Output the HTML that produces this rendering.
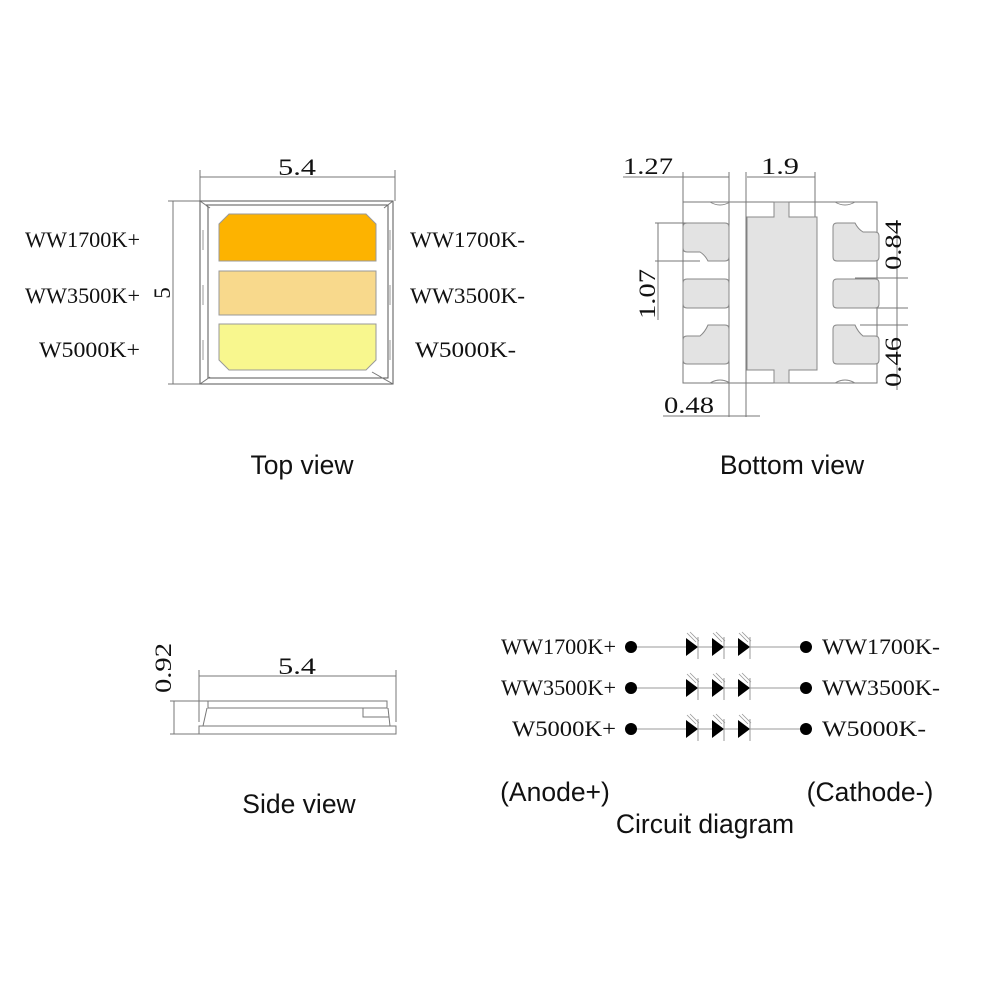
<!DOCTYPE html>
<html><head><meta charset="utf-8"><style>
html,body{margin:0;padding:0;background:#fff;}
svg{display:block;}
.l{font-family:"Liberation Serif",serif;font-size:22px;fill:#111;}
.d{font-family:"Liberation Serif",serif;font-size:23px;fill:#111;}
.s{font-family:"Liberation Sans",sans-serif;font-size:26.5px;fill:#111;}
</style></head><body>
<svg width="1000" height="1000" viewBox="0 0 1000 1000" xmlns="http://www.w3.org/2000/svg">
<g fill="none" stroke="#777" stroke-width="1">
<line x1="200" y1="170" x2="200" y2="201"/><line x1="395" y1="170" x2="395" y2="201"/>
<line x1="200" y1="177" x2="395" y2="177"/>
<line x1="168" y1="201" x2="200" y2="201"/><line x1="168" y1="384" x2="200" y2="384"/>
<line x1="173" y1="201" x2="173" y2="384"/>
<rect x="200" y="201" width="193" height="183" stroke="#555"/>
<path d="M206 205 H388 V378 H208 V207 Z" stroke="#555"/>
<path d="M200 201 L210 208 M393 201 L384 208 M200 384 L210 377 M393 384 L372 372"/>
<path d="M203 230v20M203 285v20M203 340v20M390 230v20M390 285v20M390 340v20" stroke="#999"/>
</g>
<polygon points="229,214 366,214 376,224 376,261 219,261 219,224" fill="#FDB300" stroke="#999"/>
<rect x="219" y="271" width="157" height="44" fill="#F8D98C" stroke="#999"/>
<polygon points="219,324 376,324 376,360 366,370 229,370 219,360" fill="#F8F78E" stroke="#999"/>
<text class="d" x="278" y="175" textLength="38" lengthAdjust="spacingAndGlyphs">5.4</text>
<text class="d" transform="translate(170,293) rotate(-90)" text-anchor="middle">5</text>
<text class="l" x="25" y="247" textLength="115" lengthAdjust="spacingAndGlyphs">WW1700K+</text>
<text class="l" x="25" y="303" textLength="115" lengthAdjust="spacingAndGlyphs">WW3500K+</text>
<text class="l" x="39" y="357" textLength="101" lengthAdjust="spacingAndGlyphs">W5000K+</text>
<text class="l" x="410" y="247" textLength="115" lengthAdjust="spacingAndGlyphs">WW1700K-</text>
<text class="l" x="410" y="303" textLength="115" lengthAdjust="spacingAndGlyphs">WW3500K-</text>
<text class="l" x="415" y="357" textLength="101" lengthAdjust="spacingAndGlyphs">W5000K-</text>
<text class="s" x="302" y="474" text-anchor="middle">Top view</text>

<g stroke="#777" fill="none">
<rect x="683" y="202" width="194" height="181"/>
<line x1="623" y1="177" x2="729" y2="177"/><line x1="747" y1="177" x2="815" y2="177"/>
<line x1="683" y1="172" x2="683" y2="223"/><line x1="729" y1="172" x2="729" y2="417"/>
<line x1="746" y1="172" x2="746" y2="417"/><line x1="815" y1="172" x2="815" y2="217"/>
<line x1="663" y1="416" x2="760" y2="416"/>
<line x1="655" y1="223" x2="700" y2="223"/><line x1="655" y1="261" x2="700" y2="261"/>
<line x1="658" y1="223" x2="658" y2="320"/>
<line x1="897" y1="220" x2="897" y2="390"/>
<line x1="855" y1="278" x2="908" y2="278"/><line x1="855" y1="308" x2="908" y2="308"/>
<line x1="860" y1="325" x2="908" y2="325"/>
<path d="M710 202 q10 6 20 0 M835 202 q10 6 20 0 M710 383 q10 -6 20 0 M835 383 q10 -6 20 0" stroke="#888"/>
</g>
<g fill="#e3e3e3" stroke="#888">
<path d="M747 217 H774 V202 H789 V217 H817 V370 H789 V383 H774 V370 H747 Z"/>
<path d="M687 223 H725 Q729 223 729 227 V257 Q729 261 725 261 H708 Q705 255 700 252 H687 Q683 252 683 248 V227 Q683 223 687 223Z"/>
<path d="M687 279 H725 Q729 279 729 283 V304 Q729 308 725 308 H687 Q683 308 683 304 V283 Q683 279 687 279Z"/>
<path d="M687 336 H700 Q705 332 708 325 H725 Q729 325 729 329 V360 Q729 364 725 364 H687 Q683 364 683 360 V340 Q683 336 687 336Z"/>
<path d="M837 223 H855 Q858 229 863 232 H875 Q879 232 879 236 V257 Q879 261 875 261 H837 Q833 261 833 257 V227 Q833 223 837 223Z"/>
<path d="M837 279 H875 Q879 279 879 283 V304 Q879 308 875 308 H837 Q833 308 833 304 V283 Q833 279 837 279Z"/>
<path d="M837 325 H855 Q858 332 863 336 H875 Q879 336 879 340 V360 Q879 364 875 364 H837 Q833 364 833 360 V329 Q833 325 837 325Z"/>
</g>
<text class="d" x="623" y="174" textLength="50" lengthAdjust="spacingAndGlyphs">1.27</text>
<text class="d" x="761" y="174" textLength="38" lengthAdjust="spacingAndGlyphs">1.9</text>
<text class="d" x="664" y="413" textLength="50" lengthAdjust="spacingAndGlyphs">0.48</text>
<text class="d" transform="translate(655,294) rotate(-90)" text-anchor="middle" textLength="50" lengthAdjust="spacingAndGlyphs">1.07</text>
<text class="d" transform="translate(901,245) rotate(-90)" text-anchor="middle" textLength="50" lengthAdjust="spacingAndGlyphs">0.84</text>
<text class="d" transform="translate(901,362) rotate(-90)" text-anchor="middle" textLength="50" lengthAdjust="spacingAndGlyphs">0.46</text>
<text class="s" x="792" y="474" text-anchor="middle">Bottom view</text>

<g stroke="#777" fill="none">
<line x1="199" y1="670" x2="199" y2="722"/><line x1="396" y1="670" x2="396" y2="722"/>
<line x1="199" y1="676" x2="396" y2="676"/>
<line x1="170" y1="701" x2="208" y2="701"/><line x1="170" y1="734" x2="199" y2="734"/>
<line x1="174" y1="701" x2="174" y2="734"/>
<rect x="208" y="701" width="179" height="7"/>
<path d="M207 708 L203 726 M388 708 L390 726"/>
<path d="M363 708 V717 H389"/>
<rect x="199" y="726" width="197" height="8"/>
</g>
<text class="d" x="278" y="674" textLength="38" lengthAdjust="spacingAndGlyphs">5.4</text>
<text class="d" transform="translate(171,668) rotate(-90)" text-anchor="middle" textLength="50" lengthAdjust="spacingAndGlyphs">0.92</text>
<text class="s" x="299" y="813" text-anchor="middle">Side view</text>

<g id="row">
<line x1="631" y1="647" x2="806" y2="647" stroke="#999"/>
<circle cx="631" cy="647" r="6" fill="#000"/><circle cx="806" cy="647" r="6" fill="#000"/>
<g fill="#000">
<polygon points="686,638 698,647 686,656"/><polygon points="712,638 724,647 712,656"/><polygon points="738,638 750,647 738,656"/>
</g>
<g stroke="#999">
<path d="M698 637v22M724 637v22M750 637v22"/>
<path d="M687 633l9 9M690 632l9 9M713 633l9 9M716 632l9 9M739 633l9 9M742 632l9 9" stroke-width="0.8"/>
</g>
</g>
<use href="#row" y="41"/>
<use href="#row" y="82"/>
<text class="l" x="501" y="654" textLength="115" lengthAdjust="spacingAndGlyphs">WW1700K+</text>
<text class="l" x="501" y="695" textLength="115" lengthAdjust="spacingAndGlyphs">WW3500K+</text>
<text class="l" x="512" y="736" textLength="104" lengthAdjust="spacingAndGlyphs">W5000K+</text>
<text class="l" x="822" y="654" textLength="118" lengthAdjust="spacingAndGlyphs">WW1700K-</text>
<text class="l" x="822" y="695" textLength="118" lengthAdjust="spacingAndGlyphs">WW3500K-</text>
<text class="l" x="822" y="736" textLength="104" lengthAdjust="spacingAndGlyphs">W5000K-</text>
<text class="s" x="555" y="801" text-anchor="middle">(Anode+)</text>
<text class="s" x="870" y="801" text-anchor="middle">(Cathode-)</text>
<text class="s" x="705" y="833" text-anchor="middle">Circuit diagram</text>
</svg>
</body></html>
